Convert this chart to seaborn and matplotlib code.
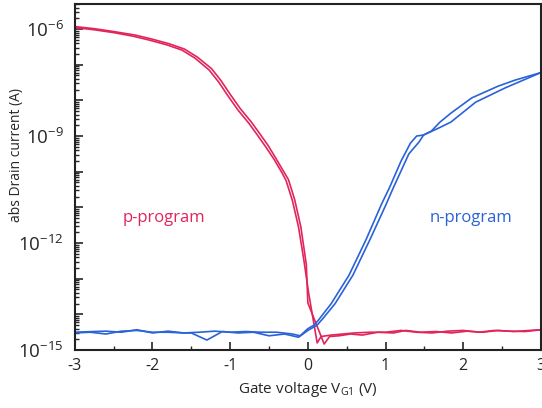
import numpy as np
import pandas as pd
import matplotlib
matplotlib.use("Agg")
import matplotlib.pyplot as plt
import matplotlib.ticker as mticker
import seaborn as sns

# values, log10 of |I_D| (A)
p1_v = [-3.0, -2.75, -2.5, -2.25, -2.04, -1.82, -1.62, -1.45, -1.27, -1.15, -1.02, -0.9, -0.76, -0.65, -0.54, -0.43, -0.33,
        -0.28, -0.2, -0.12, -0.05, 0.01,
        0.12, 0.17, 0.3, 0.45, 0.6, 0.8, 1.0, 1.2, 1.4, 1.6, 1.8, 2.0, 2.2, 2.4, 2.6, 2.8, 3.0]
p1_log = [-5.96, -6.02, -6.10, -6.20, -6.31, -6.44, -6.59, -6.82, -7.15, -7.48, -7.90, -8.27, -8.64, -8.97, -9.31, -9.67, -10.04,
          -10.25, -10.8, -11.55, -12.5, -13.4,
          -14.8, -14.62, -14.58, -14.55, -14.52, -14.5, -14.5, -14.45, -14.5, -14.52, -14.47, -14.45, -14.5, -14.45, -14.47, -14.48, -14.43]

p2_v = [-3.0, -2.75, -2.5, -2.22, -2.01, -1.79, -1.59, -1.42, -1.24, -1.12, -0.99, -0.87, -0.73, -0.62, -0.51, -0.41, -0.31,
        -0.25, -0.17, -0.09, -0.02, 0.0,
        0.21, 0.28, 0.4, 0.55, 0.7, 0.9, 1.1, 1.26, 1.45, 1.65, 1.85, 2.05, 2.25, 2.45, 2.65, 2.85, 3.0]
p2_log = [-5.93, -5.99, -6.07, -6.17, -6.28, -6.41, -6.56, -6.79, -7.11, -7.44, -7.86, -8.23, -8.60, -8.93, -9.27, -9.63, -10.0,
          -10.22, -10.78, -11.55, -12.6, -13.68,
          -14.83, -14.62, -14.6, -14.55, -14.58, -14.5, -14.52, -14.45, -14.5, -14.48, -14.52, -14.47, -14.5, -14.45, -14.48, -14.45, -14.43]

n1_v = [-3.0, -2.8, -2.6, -2.4, -2.2, -2.0, -1.8, -1.6, -1.4, -1.2, -1.0, -0.8, -0.6, -0.4, -0.2, -0.1, 0.0,
        0.08, 0.14, 0.3, 0.53, 0.75, 0.95, 1.05, 1.2, 1.32, 1.4, 1.49, 1.59, 1.7, 1.84, 2.11, 2.45, 2.67, 3.0]
n1_log = [-14.52, -14.5, -14.55, -14.47, -14.45, -14.5, -14.5, -14.52, -14.5, -14.47, -14.5, -14.48, -14.5, -14.5, -14.55, -14.6, -14.4,
          -14.3, -14.15, -13.7, -12.9, -11.9, -10.9, -10.45, -9.7, -9.2, -9.0, -8.97, -8.86, -8.61, -8.36, -7.93, -7.6, -7.43, -7.22]

n2_v = [-3.0, -2.75, -2.6, -2.4, -2.2, -2.0, -1.8, -1.6, -1.5, -1.3, -1.1, -0.9, -0.7, -0.5, -0.3, -0.12, 0.0,
        0.12, 0.2, 0.35, 0.58, 0.8, 1.0, 1.1, 1.3, 1.43, 1.49, 1.68, 1.84, 2.16, 2.54, 3.0]
n2_log = [-14.5, -14.48, -14.47, -14.5, -14.43, -14.52, -14.47, -14.52, -14.52, -14.72, -14.48, -14.52, -14.5, -14.6, -14.55, -14.64, -14.45,
          -14.3, -14.1, -13.7, -12.9, -11.9, -10.95, -10.45, -9.5, -9.17, -8.97, -8.78, -8.61, -8.05, -7.65, -7.22]

red = "#e2245c"
blue = "#2a62d8"

frames = []
for name, v, lg in [("p1", p1_v, p1_log), ("p2", p2_v, p2_log), ("n1", n1_v, n1_log), ("n2", n2_v, n2_log)]:
    frames.append(pd.DataFrame({"vg": v, "id": 10.0 ** np.array(lg), "sweep": name}))
df = pd.concat(frames, ignore_index=True)

sns.set_style("ticks")
plt.rcParams['font.family'] = ['Open Sans', 'DejaVu Sans']

fig = plt.figure(figsize=(5.42, 4.08), dpi=100)
ax = fig.add_axes([0.138, 0.142, 0.86, 0.848])

sns.lineplot(data=df, x="vg", y="id", hue="sweep", sort=False, estimator=None,
             palette={"p1": red, "p2": red, "n1": blue, "n2": blue},
             linewidth=1.2, legend=False, ax=ax)

ax.set_yscale("log")
ax.set_xlim(-3, 3)
ax.set_ylim(1e-15, 10 ** -5.3)

ax.yaxis.set_major_locator(mticker.LogLocator(base=10, numticks=20))
ax.yaxis.set_minor_locator(mticker.LogLocator(base=10, subs=np.arange(2, 10), numticks=20))
ax.yaxis.set_major_formatter(mticker.FuncFormatter(
    lambda y, p: r"$\mathregular{10^{-%d}}$" % -round(np.log10(y)) if round(np.log10(y)) % 3 == 0 else ""))
ax.yaxis.set_minor_formatter(mticker.NullFormatter())

ax.set_xticks([-3, -2, -1, 0, 1, 2, 3])
ax.set_xticklabels(["-3", "-2", "-1", "0", "1", "2", "3"])
ax.xaxis.set_minor_locator(mticker.MultipleLocator(0.5))

ax.tick_params(axis="both", which="major", direction="in", length=6, width=1.2, labelsize=11.5, pad=6)
ax.tick_params(axis="both", which="minor", direction="in", length=3, width=1)
ax.tick_params(axis="y", labelsize=13.5, pad=8)
for s in ax.spines.values():
    s.set_linewidth(1.5)
    s.set_color("#222222")

ax.set_xlabel(r"Gate voltage V$_{\mathregular{G1}}$ (V)", fontsize=11)
ax.set_ylabel("abs Drain current (A)", fontsize=10)
ax.yaxis.set_label_coords(-0.11, 0.564)

ax.text(-1.85, 10 ** -11.3, "p-program", color=red, fontsize=12, ha="center", va="center")
ax.text(2.1, 10 ** -11.3, "n-program", color=blue, fontsize=12, ha="center", va="center")

fig.savefig("out.png", dpi=100)
